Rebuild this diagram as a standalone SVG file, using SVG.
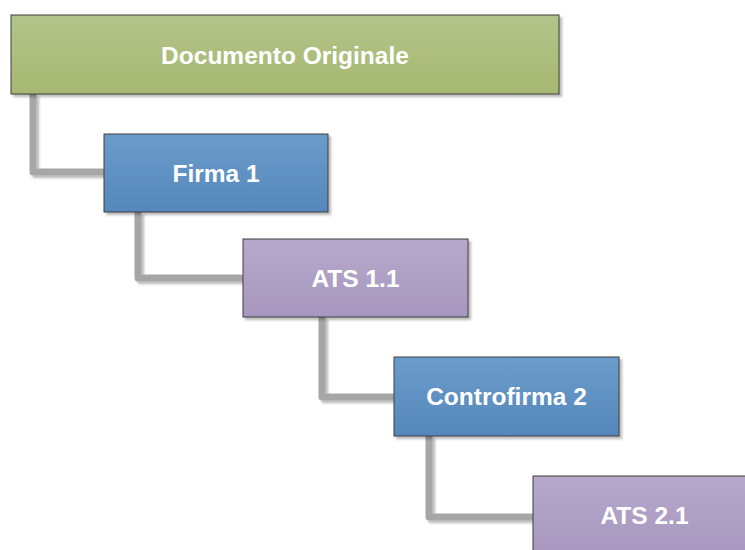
<svg xmlns="http://www.w3.org/2000/svg" width="745" height="550" viewBox="0 0 745 550">
  <defs>
    <linearGradient id="gGreen" x1="0" y1="0" x2="0" y2="1">
      <stop offset="0" stop-color="#b3c48a"/>
      <stop offset="1" stop-color="#a6b870"/>
    </linearGradient>
    <linearGradient id="gBlue" x1="0" y1="0" x2="0" y2="1">
      <stop offset="0" stop-color="#6b9cca"/>
      <stop offset="1" stop-color="#5587bb"/>
    </linearGradient>
    <linearGradient id="gPurple" x1="0" y1="0" x2="0" y2="1">
      <stop offset="0" stop-color="#b6a9cb"/>
      <stop offset="1" stop-color="#a797bf"/>
    </linearGradient>
    <filter id="shadow" x="-10%" y="-10%" width="130%" height="140%">
      <feDropShadow dx="2.5" dy="2.5" stdDeviation="1.2" flood-color="#000" flood-opacity="0.28"/>
    </filter>
  </defs>
  <style>
    .box { stroke: #3f3f3f; stroke-width: 1; filter: url(#shadow); }
    .green { fill: url(#gGreen); }
    .blue { fill: url(#gBlue); }
    .purple { fill: url(#gPurple); }
    .label { font-family: "Liberation Sans", Arial, sans-serif; font-weight: bold; font-size: 24.5px; fill: #ffffff; text-anchor: middle; dominant-baseline: central; }
    .link { fill: none; stroke: #a6a6a6; stroke-width: 7; stroke-linejoin: round; stroke-linecap: butt; filter: url(#shadow); }
  </style>

  <!-- elbow connectors between successive levels -->
  <g id="connectors">
    <path class="link" d="M33 94 V172 H104"/>
    <path class="link" d="M138 212 V278 H243"/>
    <path class="link" d="M322 317 V397 H394"/>
    <path class="link" d="M429 436 V517 H533"/>
  </g>

  <g id="documento-originale">
    <rect class="box green" x="11" y="15" width="548" height="79"/>
    <text class="label" x="285" y="55">Documento Originale</text>
  </g>

  <g id="firma-1">
    <rect class="box blue" x="104" y="134" width="224" height="78"/>
    <text class="label" x="216" y="173">Firma 1</text>
  </g>

  <g id="ats-1-1">
    <rect class="box purple" x="243" y="239" width="225" height="78"/>
    <text class="label" x="355.5" y="278">ATS 1.1</text>
  </g>

  <g id="controfirma-2">
    <rect class="box blue" x="394" y="357" width="225" height="79"/>
    <text class="label" x="506.5" y="396.5">Controfirma 2</text>
  </g>

  <g id="ats-2-1">
    <rect class="box purple" x="533" y="476" width="223" height="78"/>
    <text class="label" x="644.5" y="515">ATS 2.1</text>
  </g>
</svg>
